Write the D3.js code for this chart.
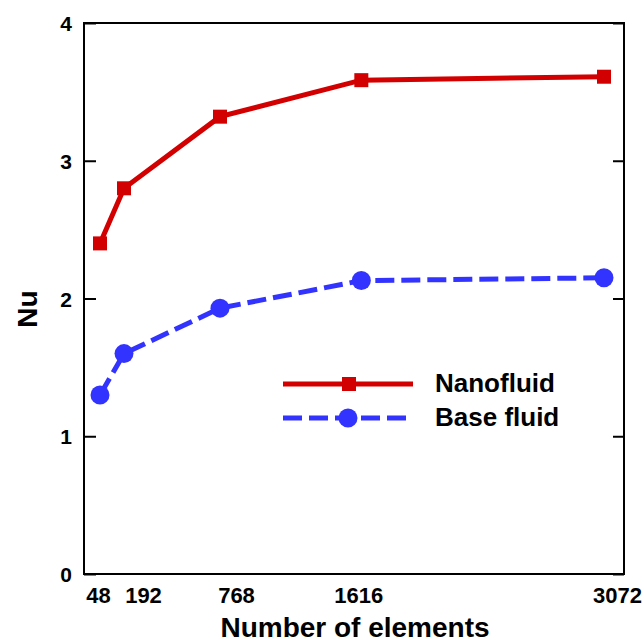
<!DOCTYPE html>
<html>
<head>
<meta charset="utf-8">
<script src="https://cdn.jsdelivr.net/npm/d3@7"></script>
<style>
  body { margin: 0; background: #fff; }
  text { font-family: "Liberation Sans", Arial, sans-serif; font-weight: bold; }
</style>
</head>
<body>
<script>
// grid study: Nu against number of elements

var elements = [48, 192, 768, 1616, 3072];
var nanofluid = [2.40, 2.80, 3.32, 3.585, 3.61];
var baseFluid = [1.30, 1.60, 1.93, 2.13, 2.15];
var yTicks = [0, 1, 2, 3, 4];
var seriesNames = ['Nanofluid', 'Base fluid'];

var width = 644;
var height = 643;
// plot box (note: "top" is taken by window.top, so use other names)
var boxL = 84, boxT = 23, boxR = 624, boxB = 574;

var red = '#d20000';
var blue = '#3333ff';

var svg = d3.select('body').append('svg')
    .attr('width', width)
    .attr('height', height);

var x = d3.scaleLinear().domain([-48, 3192]).range([boxL, boxR]);
var y = d3.scaleLinear().domain([0, 4]).range([boxB, boxT]);

// frame
svg.append('rect')
    .attr('x', boxL)
    .attr('y', boxT)
    .attr('width', boxR - boxL)
    .attr('height', boxB - boxT)
    .attr('fill', 'none')
    .attr('stroke', '#000')
    .attr('stroke-width', 2);

// left axis, ticks point inward
var yAxis = svg.append('g')
    .attr('transform', 'translate(' + boxL + ',0)')
    .call(d3.axisLeft(y).tickValues(yTicks).tickFormat(d3.format('d'))
        .tickSizeInner(-12).tickSizeOuter(0).tickPadding(12));
yAxis.select('.domain').remove();
yAxis.selectAll('line').attr('stroke-width', 2);
yAxis.selectAll('text').attr('font-size', 21).attr('fill', '#000').attr('dy', '0.36em');

// right axis, ticks only
var yAxisR = svg.append('g')
    .attr('transform', 'translate(' + boxR + ',0)')
    .call(d3.axisRight(y).tickValues(yTicks).tickFormat('')
        .tickSizeInner(-11).tickSizeOuter(0));
yAxisR.select('.domain').remove();
yAxisR.selectAll('line').attr('stroke-width', 2);

// bottom labels, hand-placed a bit in the original
var nudge = { 48: -2, 192: 19, 768: 16, 1616: -3, 3072: 13 };
var xAxis = svg.append('g')
    .attr('transform', 'translate(0,' + boxB + ')')
    .call(d3.axisBottom(x).tickValues(elements).tickFormat(d3.format('d'))
        .tickSize(0).tickPadding(0));
xAxis.select('.domain').remove();
xAxis.selectAll('line').remove();
xAxis.selectAll('text')
    .attr('font-size', 22)
    .attr('fill', '#000')
    .attr('dy', 0)
    .attr('y', 29)
    .attr('dx', function(d) { return nudge[d]; });

// axis titles
svg.append('text')
    .attr('x', 355)
    .attr('y', 637)
    .attr('text-anchor', 'middle')
    .attr('font-size', 28)
    .text('Number of elements');

svg.append('text')
    .attr('transform', 'translate(37,309) rotate(-90)')
    .attr('text-anchor', 'middle')
    .attr('font-size', 28)
    .text('Nu');

// lines
var line = d3.line()
    .x(function(d, i) { return x(elements[i]); })
    .y(function(d) { return y(d); });

svg.append('path')
    .datum(nanofluid)
    .attr('d', line)
    .attr('fill', 'none')
    .attr('stroke', red)
    .attr('stroke-width', 5);

svg.append('path')
    .datum(baseFluid)
    .attr('d', line)
    .attr('fill', 'none')
    .attr('stroke', blue)
    .attr('stroke-width', 5)
    .attr('stroke-dasharray', '19,7');

svg.selectAll('.sq')
    .data(nanofluid)
    .enter().append('rect')
    .attr('x', function(d, i) { return x(elements[i]) - 7; })
    .attr('y', function(d) { return y(d) - 7; })
    .attr('width', 14)
    .attr('height', 14)
    .attr('fill', red);

svg.selectAll('.dot')
    .data(baseFluid)
    .enter().append('circle')
    .attr('cx', function(d, i) { return x(elements[i]); })
    .attr('cy', function(d) { return y(d); })
    .attr('r', 9.5)
    .attr('fill', blue);

// legend
var lg = svg.append('g');
lg.append('line')
    .attr('x1', 283).attr('x2', 413)
    .attr('y1', 384).attr('y2', 384)
    .attr('stroke', red).attr('stroke-width', 5);
lg.append('rect')
    .attr('x', 342).attr('y', 377)
    .attr('width', 14).attr('height', 14)
    .attr('fill', red);
lg.append('line')
    .attr('x1', 283).attr('x2', 411)
    .attr('y1', 418).attr('y2', 418)
    .attr('stroke', blue).attr('stroke-width', 5)
    .attr('stroke-dasharray', '19,7');
lg.append('circle')
    .attr('cx', 348).attr('cy', 418)
    .attr('r', 9.5)
    .attr('fill', blue);

lg.selectAll('text')
    .data(seriesNames)
    .enter().append('text')
    .attr('x', 435)
    .attr('y', function(d, i) { return 392 + i * 34; })
    .attr('font-size', 26)
    .text(function(d) { return d; });
</script>
</body>
</html>
